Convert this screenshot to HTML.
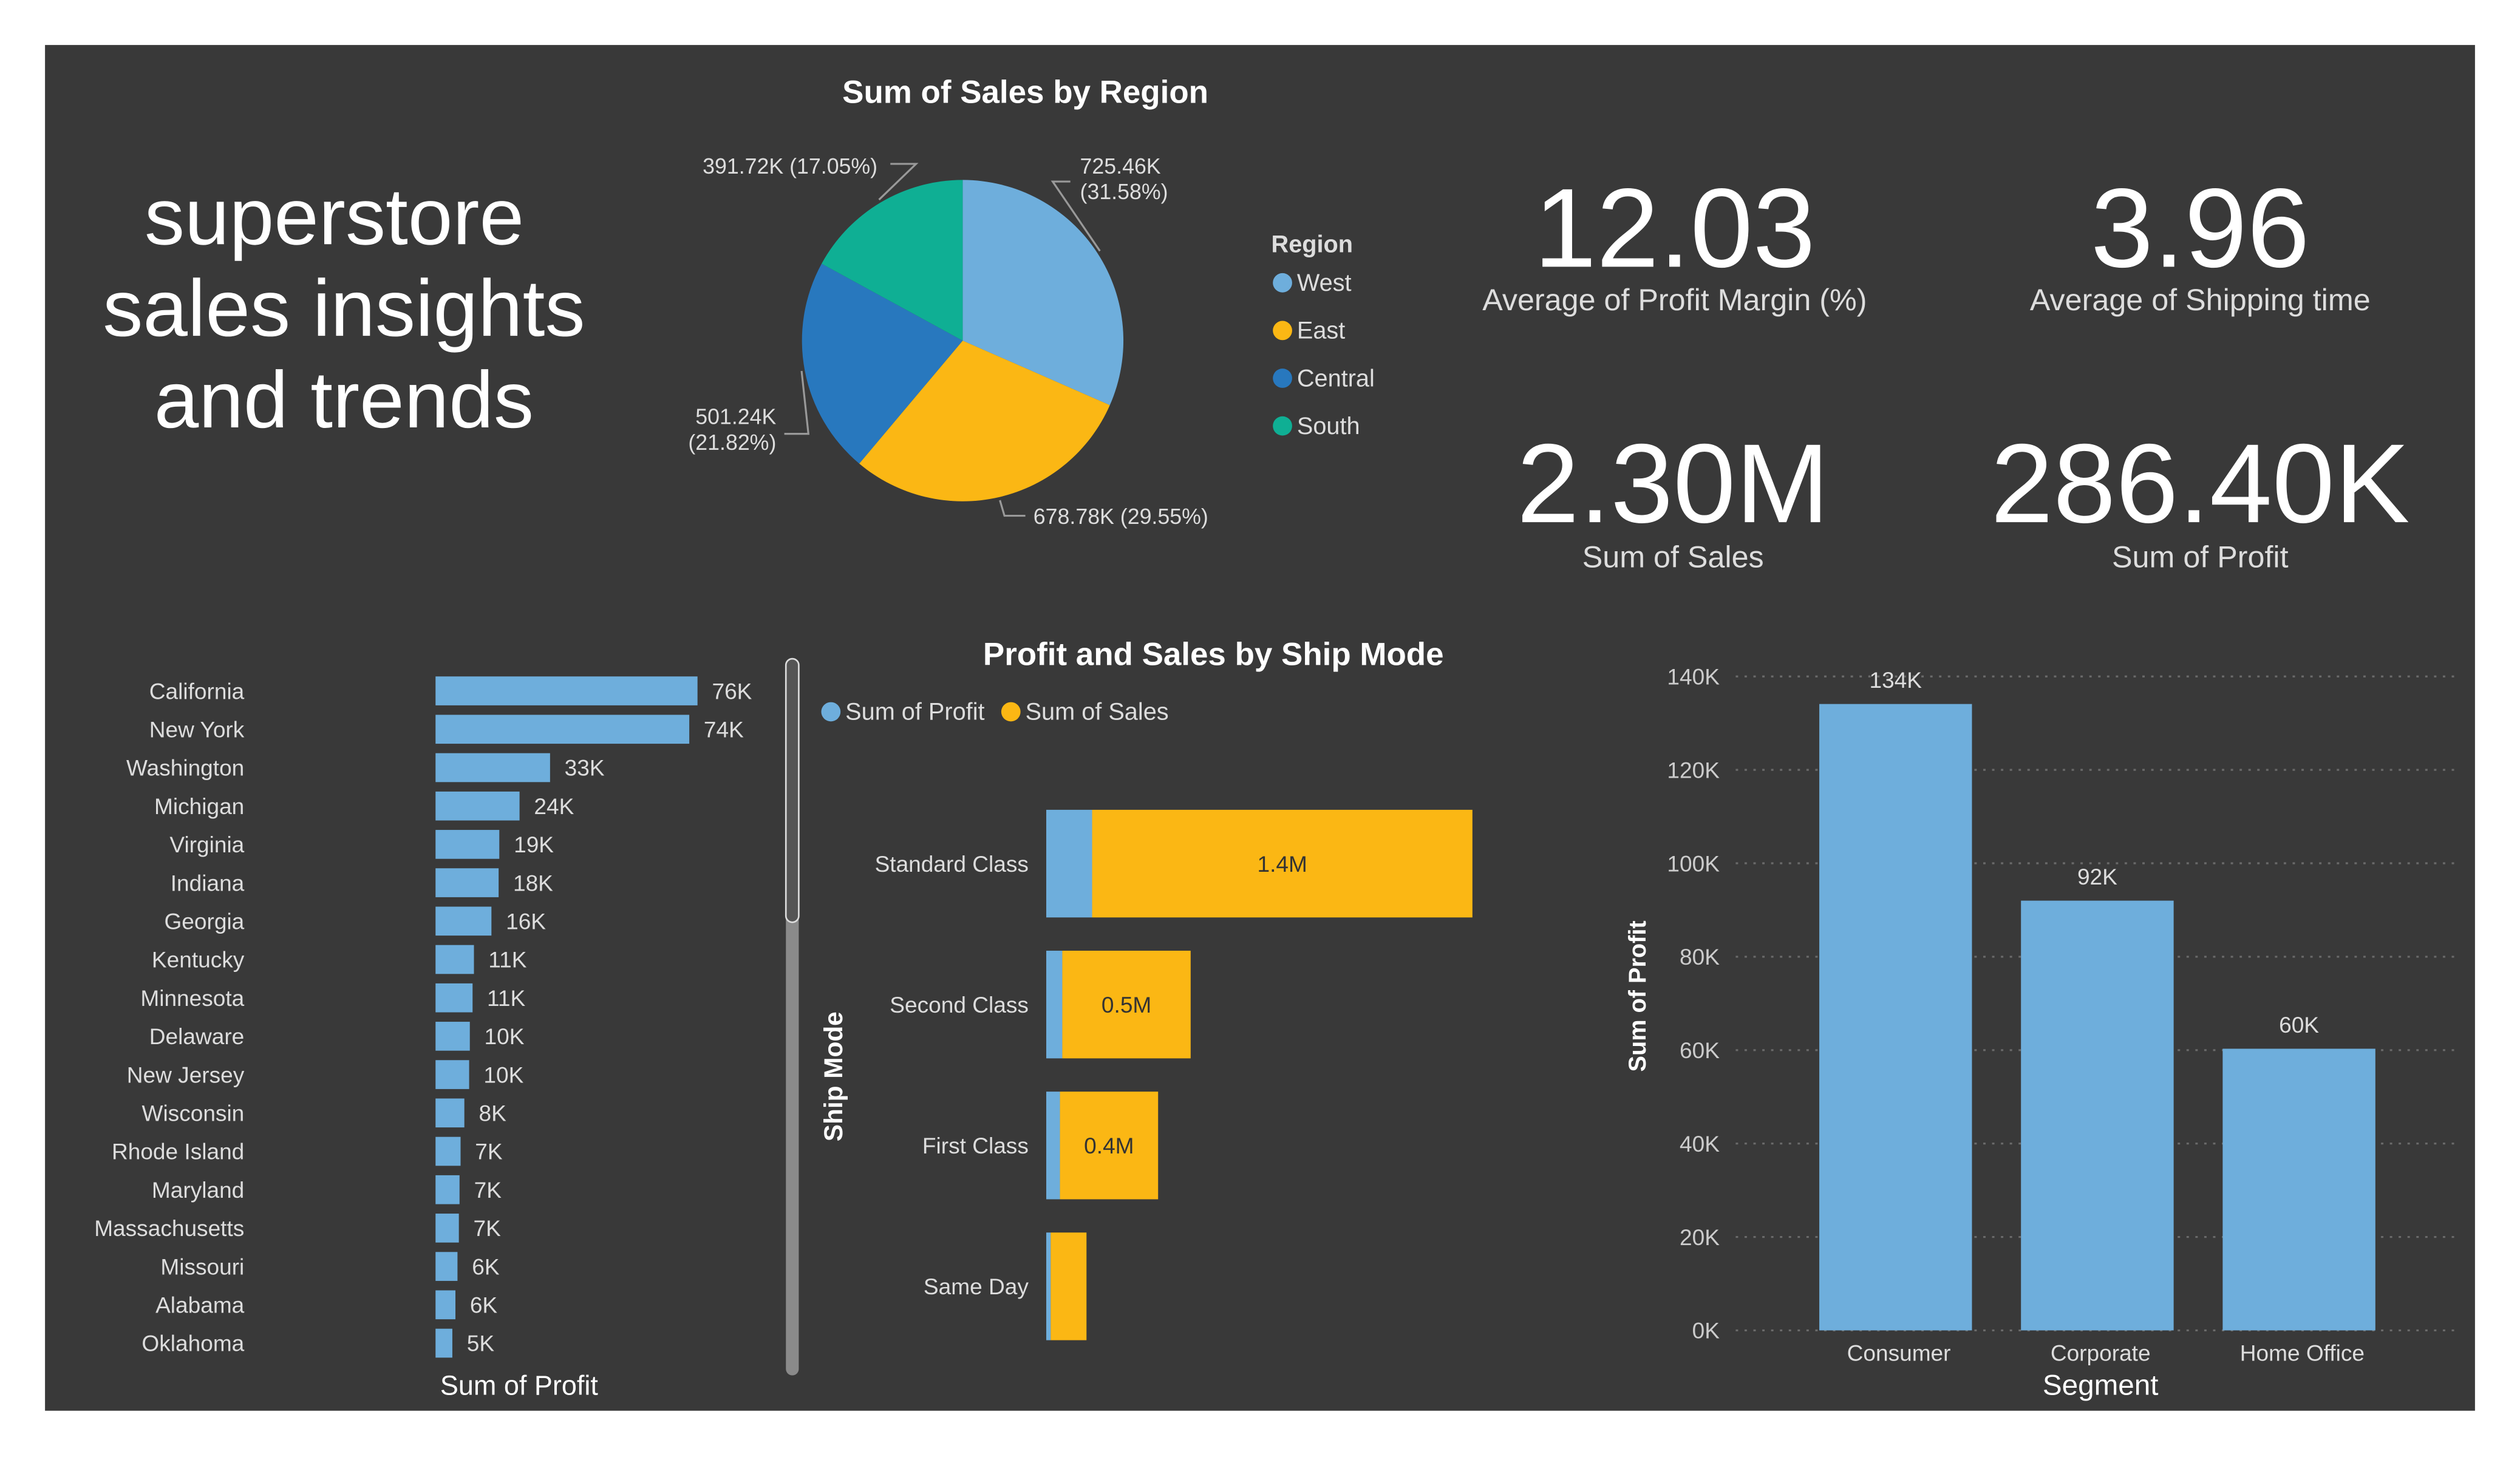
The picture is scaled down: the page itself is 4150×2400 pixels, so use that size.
<!DOCTYPE html>
<html><head><meta charset="utf-8"><style>
html,body{margin:0;padding:0;background:#fff;}
svg{display:block;font-family:"Liberation Sans",sans-serif;}
</style></head><body>
<svg id="dash" width="4150" height="2400" viewBox="0 0 1568 906.8" xmlns="http://www.w3.org/2000/svg">
<rect x="0" y="0" width="1568" height="906.8" fill="#ffffff"/>
<rect x="28" y="28" width="1512" height="850" fill="#393939"/>
<g fill="#ffffff" font-size="50" text-anchor="middle">
<text x="208" y="152">superstore</text>
<text x="214" y="209">sales insights</text>
<text x="214" y="266">and trends</text>
</g>
<text x="638" y="64" fill="#fff" font-size="20" font-weight="bold" text-anchor="middle">Sum of Sales by Region</text>
<g id="pie"></g>
<g>
<text x="791" y="157" fill="#ddd" font-size="15" font-weight="bold">Region</text>
<g id="pieLegend"></g>
</g>
<g>
<text x="1042" y="166" fill="#fff" font-size="70" text-anchor="middle">12.03</text>
<text x="1042" y="193" fill="#ddd" font-size="19" text-anchor="middle">Average of Profit Margin (%)</text>
</g>
<g>
<text x="1369" y="166" fill="#fff" font-size="70" text-anchor="middle">3.96</text>
<text x="1369" y="193" fill="#ddd" font-size="19" text-anchor="middle">Average of Shipping time</text>
</g>
<g>
<text x="1041" y="325" fill="#fff" font-size="70" text-anchor="middle">2.30M</text>
<text x="1041" y="353" fill="#ddd" font-size="19" text-anchor="middle">Sum of Sales</text>
</g>
<g>
<text x="1369" y="325" fill="#fff" font-size="70" text-anchor="middle">286.40K</text>
<text x="1369" y="353" fill="#ddd" font-size="19" text-anchor="middle">Sum of Profit</text>
</g>
<g id="states"></g>
<text x="323" y="868" fill="#fff" font-size="17" text-anchor="middle">Sum of Profit</text>
<rect x="489" y="410" width="8" height="446" rx="4" fill="#8a8a8a"/>
<rect x="489" y="410" width="8" height="164" rx="4" fill="#555" stroke="#ddd" stroke-width="1"/>
<text x="755" y="414" fill="#fff" font-size="20" font-weight="bold" text-anchor="middle">Profit and Sales by Ship Mode</text>
<g>
<circle cx="517" cy="443" r="6" fill="#6EAEDC"/><text x="526" y="448" fill="#ddd" font-size="15">Sum of Profit</text>
<circle cx="629" cy="443" r="6" fill="#FBB714"/><text x="638" y="448" fill="#ddd" font-size="15">Sum of Sales</text>
</g>
<text transform="translate(524,670) rotate(-90)" fill="#fff" font-size="16" font-weight="bold" text-anchor="middle">Ship Mode</text>
<g id="ship"></g>
<g id="seg"></g>
<text transform="translate(1024,620) rotate(-90)" fill="#fff" font-size="15" font-weight="bold" text-anchor="middle">Sum of Profit</text>
<text x="1307" y="868" fill="#fff" font-size="18" text-anchor="middle">Segment</text>
</svg>
<script>
const NS="http://www.w3.org/2000/svg";
// pie data
const regions=["West","East","Central","South"];
const regionSales=[725.46,678.78,501.24,391.72];
const regionLabels=["725.46K (31.58%)","678.78K (29.55%)","501.24K (21.82%)","391.72K (17.05%)"];
const regionColors=["#6EAEDC","#FBB714","#2878BE","#0FAF94"];
// states data
const states=["California","New York","Washington","Michigan","Virginia","Indiana","Georgia","Kentucky","Minnesota","Delaware","New Jersey","Wisconsin","Rhode Island","Maryland","Massachusetts","Missouri","Alabama","Oklahoma"];
const stateProfit=[76.4,74.0,33.4,24.5,18.6,18.4,16.3,11.2,10.8,10.0,9.8,8.4,7.3,7.0,6.8,6.4,5.8,4.9];
const stateLabels=["76K","74K","33K","24K","19K","18K","16K","11K","11K","10K","10K","8K","7K","7K","7K","6K","6K","5K"];
// ship mode data
const shipModes=["Standard Class","Second Class","First Class","Same Day"];
const shipProfit=[0.164,0.0574,0.049,0.0159];
const shipSales=[1.36,0.459,0.351,0.128];
const shipLabels=["1.4M","0.5M","0.4M",""];
// segment data
const segments=["Consumer","Corporate","Home Office"];
const segProfit=[134.1,92.0,60.3];
const segLabels=["134K","92K","60K"];
const segTicks=[0,20,40,60,80,100,120,140];
const segTickLabels=["0K","20K","40K","60K","80K","100K","120K","140K"];

function mk(tag,attrs,parent,text){const e=document.createElementNS(NS,tag);for(const k in attrs)e.setAttribute(k,attrs[k]);if(text!==undefined)e.textContent=text;parent.appendChild(e);return e;}

// PIE
(function(){
const g=document.getElementById('pie');const cx=599,cy=212,r=100;
const total=regionSales.reduce((a,b)=>a+b,0);let a0=0;
const lpos=[[672,108,"start"],[643,326,"start"],[483,264,"end"],[546,108,"end"]];
const elbows=[[[655,113],[666,113]],[[625,321],[638,321]],[[503,270],[488,270]],[[570,102],[554,102]]];
regionSales.forEach((v,i)=>{
 const a1=a0+v/total*2*Math.PI;
 const p=(a)=>[cx+r*Math.sin(a),cy-r*Math.cos(a)];
 const [x0,y0]=p(a0),[x1,y1]=p(a1);
 const el=mk('path',{d:`M${cx},${cy}L${x0},${y0}A${r},${r} 0 ${a1-a0>Math.PI?1:0} 1 ${x1},${y1}Z`,fill:regionColors[i]},g);
 
 
 const am=(a0+a1)/2;const [ex,ey]=[cx+(r+2)*Math.sin(am),cy-(r+2)*Math.cos(am)];
 const [lx,ly,anc]=lpos[i];
 const parts=regionLabels[i].split(' ');
 const t=mk('text',{x:lx,y:ly,fill:'#ddd','font-size':13.5,'text-anchor':anc},g);
 
 
 if(i===0||i===2){mk('tspan',{x:lx,dy:0},t,parts[0]);mk('tspan',{x:lx,dy:16},t,parts[1]);}
 else t.textContent=regionLabels[i];
 const e=elbows[i];
 mk('polyline',{points:`${ex},${ey} ${e[0][0]},${e[0][1]} ${e[1][0]},${e[1][1]}`,fill:'none',stroke:'#999','stroke-width':1.2},g);
 a0=a1;
});
const lg=document.getElementById('pieLegend');
regions.forEach((n,i)=>{
 const y=176+i*29.7;
 const c=mk('circle',{cx:798,cy:y,r:6,fill:regionColors[i]},lg);
 
 
 const t=mk('text',{x:807,y:y+5,fill:'#ddd','font-size':15},lg,n);
 
 
});
})();

// STATES
(function(){
const g=document.getElementById('states');const x0=271,k=163/76.4,y0=430,step=23.88,h=18;
states.forEach((s,i)=>{
 const y=y0+i*step;const w=stateProfit[i]*k;
 const t=mk('text',{x:152,y:y+5,fill:'#ddd','font-size':14,'text-anchor':'end'},g,s);
 
 
 const b=mk('rect',{x:x0,y:y-h/2,width:w,height:h,fill:'#6EAEDC'},g);
 
 
 const v=mk('text',{x:x0+w+9,y:y+5,fill:'#ddd','font-size':14},g,stateLabels[i]);
 
 
});
})();

// SHIP MODE
(function(){
const g=document.getElementById('ship');const x0=651,k=174,y0=537.5,step=87.7,h=67;
shipModes.forEach((m,i)=>{
 const y=y0+i*step;const wp=shipProfit[i]*k,ws=shipSales[i]*k;
 const t=mk('text',{x:640,y:y+5,fill:'#ddd','font-size':14,'text-anchor':'end'},g,m);
 
 
 const b1=mk('rect',{x:x0,y:y-h/2,width:wp,height:h,fill:'#6EAEDC'},g);
 
 
 const b2=mk('rect',{x:x0+wp,y:y-h/2,width:ws,height:h,fill:'#FBB714'},g);
 
 
 if(shipLabels[i]){const v=mk('text',{x:x0+wp+ws/2,y:y+5,fill:'#333','font-size':14,'text-anchor':'middle'},g,shipLabels[i]);
 
 }
});
})();

// SEGMENT
(function(){
const g=document.getElementById('seg');const yb=828,k=(828-421)/140;
const yS=v=>yb-v*k;
segTicks.forEach((v,i)=>{
 mk('line',{x1:1080,x2:1530,y1:yS(v),y2:yS(v),stroke:'#6a6a6a','stroke-width':1.2,'stroke-dasharray':'1.5 4'},g);
 const t=mk('text',{x:1070,y:yS(v)+5,fill:'#ccc','font-size':14,'text-anchor':'end'},g,segTickLabels[i]);
 
 
});
const xs=[1132,1257.5,1383],w=95;
segments.forEach((s,i)=>{
 const b=mk('rect',{x:xs[i],y:yS(segProfit[i]),width:w,height:segProfit[i]*k,fill:'#6EAEDC'},g);
 
 
 const v=mk('text',{x:xs[i]+w/2,y:yS(segProfit[i])-10,fill:'#ddd','font-size':14,'text-anchor':'middle'},g,segLabels[i]);
 
 
 const c=mk('text',{x:xs[i]+w/2+2,y:847,fill:'#ddd','font-size':14,'text-anchor':'middle'},g,s);
 
 
});
})();
</script>
</body></html>
